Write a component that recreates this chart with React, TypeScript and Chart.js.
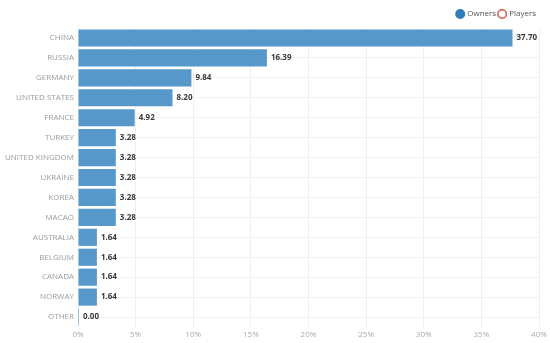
import React, { useEffect, useRef } from "react";
import { Chart, registerables } from "chart.js";

Chart.register(...registerables);

const categories = [
  "CHINA", "RUSSIA", "GERMANY", "UNITED STATES", "FRANCE", "TURKEY",
  "UNITED KINGDOM", "UKRAINE", "KOREA", "MACAO", "AUSTRALIA", "BELGIUM",
  "CANADA", "NORWAY", "OTHER",
];
const ownersValues = [37.7, 16.39, 9.84, 8.2, 4.92, 3.28, 3.28, 3.28, 3.28, 3.28, 1.64, 1.64, 1.64, 1.64, 0.0];
const playersValues: (number | null)[] = categories.map(() => null);
const xTicks = [0, 5, 10, 15, 20, 25, 30, 35, 40];

const valueLabels = {
  id: "valueLabels",
  afterDatasetsDraw(chart: any) {
    const ctx = chart.ctx;
    const meta = chart.getDatasetMeta(0);
    ctx.save();
    ctx.font = "bold 8px 'Open Sans', sans-serif";
    ctx.fillStyle = "#3a3a3a";
    ctx.textAlign = "left";
    ctx.textBaseline = "middle";
    meta.data.forEach((bar: any, i: number) => {
      const v = ownersValues[i];
      ctx.fillText(v.toFixed(2), bar.x + 4, bar.y);
    });
    ctx.restore();
  },
};

export default function App() {
  const ref = useRef<HTMLCanvasElement>(null);
  useEffect(() => {
    if (!ref.current) return;
    const chart = new Chart(ref.current, {
      type: "bar",
      data: {
        labels: categories,
        datasets: [
          {
            label: "Owners",
            data: ownersValues,
            backgroundColor: "#5598c9",
            borderColor: "#2f7bbd",
            borderWidth: 0,
            barPercentage: 0.86,
            categoryPercentage: 1,
            grouped: false,
            minBarLength: 1,
          } as any,
          {
            label: "Players",
            data: playersValues,
            backgroundColor: "#ffffff",
            borderColor: "#d9534f",
            borderWidth: 1.5,
            barPercentage: 0.86,
            categoryPercentage: 1,
            grouped: false,
          } as any,
        ],
      },
      options: {
        indexAxis: "y",
        animation: false,
        responsive: true,
        maintainAspectRatio: false,
        layout: { padding: { left: 0, right: 11, top: 7, bottom: 0 } },
        plugins: {
          legend: {
            position: "top",
            align: "end",
            labels: {
              usePointStyle: true,
              pointStyle: "circle",
              boxWidth: 6,
              boxHeight: 6,
              padding: 3,
              font: { size: 8, family: "'Open Sans', sans-serif" },
              color: "#555",
              generateLabels: (chart: any) =>
                chart.data.datasets.map((ds: any, i: number) => ({
                  text: ds.label,
                  fillStyle: i === 0 ? "#2f7bbd" : "#ffffff",
                  strokeStyle: i === 0 ? "#2f7bbd" : "#d9534f",
                  lineWidth: 1.5,
                  pointStyle: "circle",
                  hidden: false,
                  datasetIndex: i,
                  fontColor: "#555",
                })),
            },
          },
          tooltip: { enabled: false },
        },
        scales: {
          x: {
            min: 0,
            max: 40,
            afterBuildTicks: (s: any) => {
              s.ticks = xTicks.map((v) => ({ value: v }));
            },
            afterFit: (s: any) => {
              s.height = 16;
            },
            grid: { color: "#eeeeee", drawTicks: false },
            border: { display: false },
            ticks: {
              padding: 3,
              color: "#aaaaaa",
              font: { size: 8, family: "'Open Sans', sans-serif" },
              callback: (v: any) => v + "%",
            },
          },
          y: {
            afterFit: (s: any) => {
              s.width = 78;
            },
            grid: { color: "#f0f0f0", drawTicks: false, offset: false },
            border: { display: false },
            ticks: {
              padding: 4,
              color: "#9a9a9a",
              font: { size: 8, family: "'Open Sans', sans-serif" },
            },
          },
        },
      },
      plugins: [valueLabels],
    });
    return () => chart.destroy();
  }, []);
  return (
    <div style={{ position: "fixed", left: 0, top: 0, width: 550, height: 343, background: "#fff" }}>
      <canvas ref={ref} />
    </div>
  );
}
